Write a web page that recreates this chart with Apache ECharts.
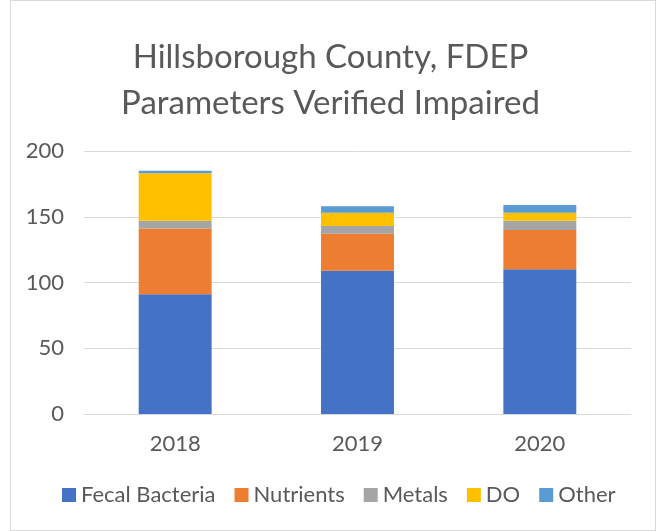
<!DOCTYPE html>
<html lang="en">
<head>
<meta charset="UTF-8">
<title>Hillsborough County, FDEP Parameters Verified Impaired</title>
<script src="https://cdn.jsdelivr.net/npm/echarts@6/dist/echarts.min.js"></script>
<style>
  html, body { margin: 0; padding: 0; background: #fff; }
  #chart { position: absolute; left: 0; top: 0; width: 661px; height: 531px; }
  #frame { position: absolute; left: 10px; top: 0; width: 644px; height: 529px; border: 1px solid #d9d9d9; pointer-events: none; }
</style>
</head>
<body>
<div id="chart"></div>
<div id="frame"></div>
<script>
var years = ['2018', '2019', '2020'];
var fecal = [91, 109, 110];
var nutrients = [50, 28, 30];
var metals = [6, 6, 7];
var dissolvedO = [36, 10, 6];
var other = [2, 5, 6];
var yTicks = [0, 50, 100, 150, 200];

var font = 'Lato, "Open Sans", sans-serif';
var chart = echarts.init(document.getElementById('chart'));

function bar(name, data, color) {
  return {
    name: name,
    type: 'bar',
    stack: 'total',
    barWidth: '40%',
    itemStyle: { color: color },
    data: data
  };
}

chart.setOption({
  animation: false,
  textStyle: { fontFamily: font },
  title: {
    text: 'Hillsborough County, FDEP\nParameters Verified Impaired',
    left: 'center',
    top: 29,
    textStyle: { fontFamily: font, fontSize: 33, fontWeight: 'normal', color: '#595959', lineHeight: 46 }
  },
  grid: { left: 84, right: 30, top: 151, bottom: 117 },
  legend: {
    bottom: 20,
    left: 57,
    itemWidth: 14,
    itemHeight: 14,
    itemGap: 19,
    icon: 'rect',
    textStyle: { fontFamily: font, fontSize: 22, color: '#595959' },
    data: ['Fecal Bacteria', 'Nutrients', 'Metals', 'DO', 'Other']
  },
  xAxis: {
    type: 'category',
    data: years,
    axisLine: { lineStyle: { color: '#d9d9d9' } },
    axisTick: { show: false },
    axisLabel: { fontFamily: font, fontSize: 22, color: '#595959', margin: 19 }
  },
  yAxis: {
    type: 'value',
    min: yTicks[0],
    max: yTicks[yTicks.length - 1],
    interval: 50,
    axisLine: { show: false },
    axisTick: { show: false },
    splitLine: { lineStyle: { color: '#d9d9d9' } },
    axisLabel: { fontFamily: font, fontSize: 22, color: '#595959', margin: 20 }
  },
  series: [
    bar('Fecal Bacteria', fecal, '#4472C4'),
    bar('Nutrients', nutrients, '#ED7D31'),
    bar('Metals', metals, '#A5A5A5'),
    bar('DO', dissolvedO, '#FFC000'),
    bar('Other', other, '#5B9BD5')
  ]
});
</script>
</body>
</html>
